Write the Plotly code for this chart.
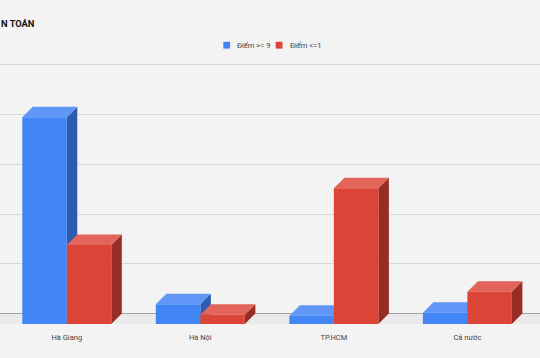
import plotly.graph_objects as go

# ---------------- data ----------------
categories = ["Hà Giang", "Hà Nội", "TP.HCM", "Cả nước"]
series_names = ["Điểm >= 9", "Điểm <=1"]
diem_ge_9 = [4.16, 0.40, 0.17, 0.23]
diem_le_1 = [1.59, 0.19, 2.73, 0.65]
y_ticks = [0, 1, 2, 3, 4, 5]
title_text = "N TOÁN"

# ---------------- style ----------------
W, H = 540, 358
M_T, M_B, M_L, M_R = 62, 27, 0, 0
Y_MIN, Y_MAX = -0.35, 5.06
X_MIN, X_MAX = -0.5003, 3.5438
BG = "#f3f3f3"
FLOOR = "#eaeaea"
GRID = "#d8d8d8"
ZERO = "#a3a3a3"
TEXT = "#444444"
FONT = "Roboto"

PALETTE = [
    dict(front="#4285f4", top="#6097f6", side="#2c5bb0"),
    dict(front="#db4437", top="#e2645a", side="#972d25"),
]

px_x = (W - M_L - M_R) / (X_MAX - X_MIN)
px_y = (H - M_T - M_B) / (Y_MAX - Y_MIN)
DEPTH = 10.5
dx = DEPTH / px_x
dy = DEPTH / px_y
BAR_W = 1 / 3


def faces(values, offset):
    fx, fy, tx, ty, sx, sy = [], [], [], [], [], []
    for i, v in enumerate(values):
        x0 = i + offset * BAR_W
        x1 = x0 + BAR_W
        y0 = -dy
        y1 = v - dy
        fx += [x0, x1, x1, x0, x0, None]
        fy += [y0, y0, y1, y1, y0, None]
        tx += [x0, x1, x1 + dx, x0 + dx, x0, None]
        ty += [y1, y1, v, v, y1, None]
        sx += [x1, x1 + dx, x1 + dx, x1, x1, None]
        sy += [y0, 0, v, y1, y0, None]
    return (fx, fy), (tx, ty), (sx, sy)


fig = go.Figure()

for s, (vals, name) in enumerate(zip([diem_ge_9, diem_le_1], series_names)):
    front, top, side = faces(vals, s - 1)
    pal = PALETTE[s]
    for (xs, ys), col in [(side, pal["side"]), (top, pal["top"]), (front, pal["front"])]:
        fig.add_trace(go.Scatter(
            x=xs, y=ys, mode="lines", fill="toself", fillcolor=col,
            line=dict(width=0, color=col), hoverinfo="skip",
            showlegend=False, name=name,
        ))

# floor band
fig.add_shape(type="rect", xref="paper", x0=0, x1=1, yref="y", y0=-dy, y1=0,
              fillcolor=FLOOR, line=dict(width=0), layer="below")

# legend (swatches + text)
def py(p):  # pixel y -> paper y
    return (H - M_B - p) / (H - M_T - M_B)

def pxp(p):  # pixel x -> paper x
    return (p - M_L) / (W - M_L - M_R)

legend_items = [(223.3, 235, series_names[0]), (275.7, 287.5, series_names[1])]
for (sq, tx0, label), pal in zip(legend_items, PALETTE):
    fig.add_shape(type="rect", xref="paper", yref="paper",
                  x0=pxp(sq), x1=pxp(sq + 6.8), y0=py(48.6), y1=py(41.8),
                  fillcolor=pal["front"], line=dict(width=0))
    fig.add_annotation(text=label, xref="paper", yref="paper", x=pxp(tx0), y=py(45.3),
                       xanchor="left", yanchor="middle", showarrow=False,
                       font=dict(family=FONT, size=7.5, color=TEXT))

fig.add_annotation(text="<b>" + title_text + "</b>", xref="paper", yref="paper",
                   x=pxp(-1), y=py(23.5), xanchor="left", yanchor="middle",
                   showarrow=False, font=dict(family=FONT, size=9.3, color="#111111"))

fig.update_layout(
    width=W, height=H,
    margin=dict(l=M_L, r=M_R, t=M_T, b=M_B, pad=0),
    paper_bgcolor=BG, plot_bgcolor=BG,
    showlegend=False,
    font=dict(family=FONT, size=7, color=TEXT),
    xaxis=dict(range=[X_MIN, X_MAX], tickvals=list(range(len(categories))),
               ticktext=categories, showgrid=False, zeroline=False, showline=False,
               ticks="", tickfont=dict(size=7.5, color=TEXT), fixedrange=True),
    yaxis=dict(range=[Y_MIN, Y_MAX], tickvals=y_ticks, showticklabels=False,
               showgrid=True, gridcolor=GRID, gridwidth=1,
               zeroline=True, zerolinecolor=ZERO, zerolinewidth=1,
               showline=False, ticks="", fixedrange=True),
)

fig.write_html("out.html", config={"displayModeBar": False},
               post_script="document.body.style.margin='0';document.body.style.background='" + BG + "';")
